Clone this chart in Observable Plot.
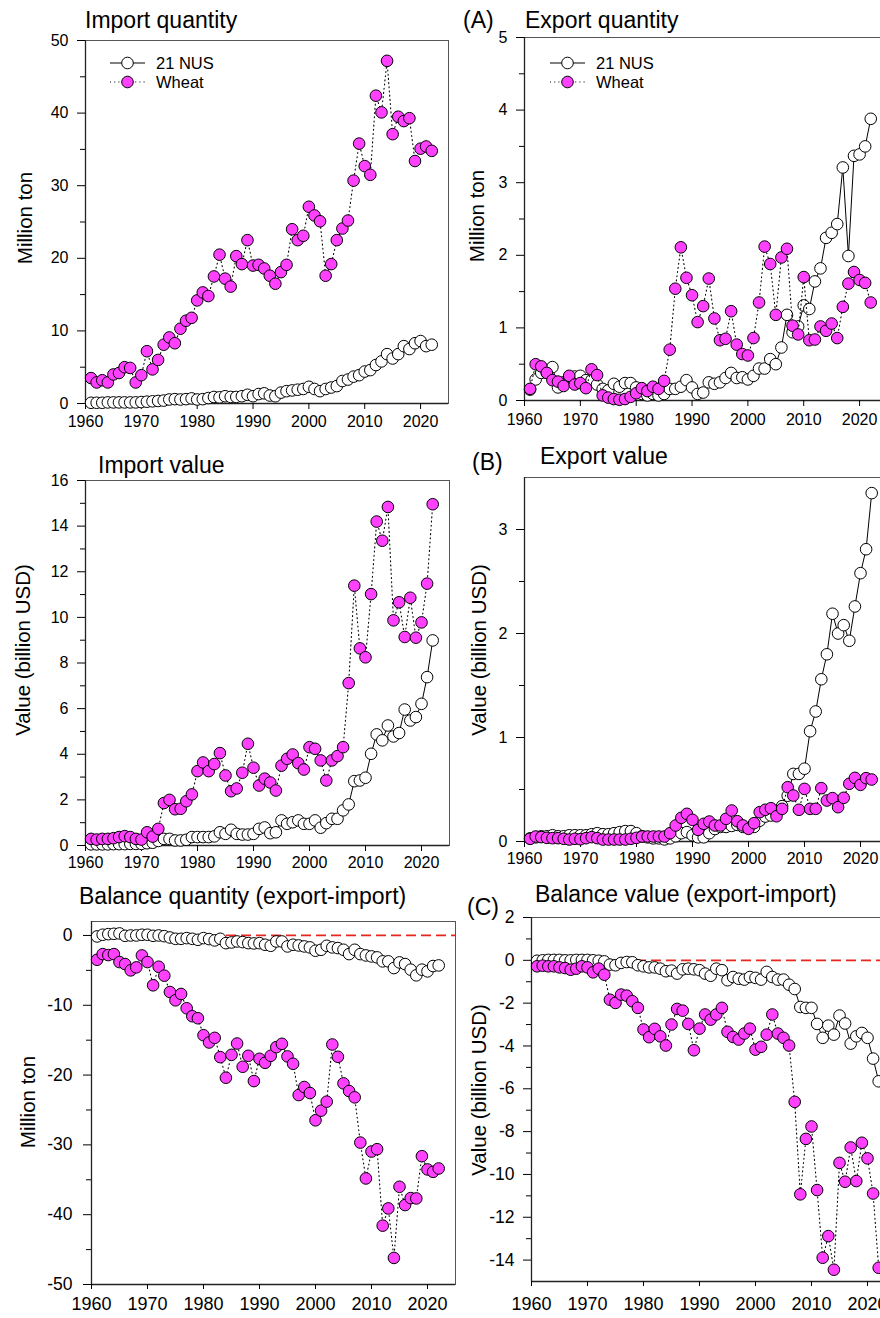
<!DOCTYPE html>
<html>
<head>
<meta charset="utf-8">
<script src="https://cdn.jsdelivr.net/npm/d3@7"></script>
<script src="https://cdn.jsdelivr.net/npm/@observablehq/plot@0.6"></script>
<style>
html, body { margin: 0; padding: 0; background: #fff; }
#page { position: relative; width: 880px; height: 1318px; overflow: hidden; background: #fff; }
</style>
</head>
<body>
<div id="page"></div>
<script>
const FONT = "'Liberation Sans', Arial, Helvetica, sans-serif";
const years = d3.range(1961, 2023);
const xTickYears = [1960, 1970, 1980, 1990, 2000, 2010, 2020];
const seriesNames = ["21 NUS", "Wheat"];

// Import quantity (million ton)
const impQtyNUS = [0.1,0.1,0.1,0.15,0.15,0.15,0.15,0.15,0.15,0.2, 0.25,0.3,0.35,0.4,0.55,0.6,0.55,0.6,0.7,0.55, 0.6,0.75,0.9,0.85,1.0,0.9,0.9,1.0,1.2,1.0, 1.3,1.4,1.1,1.0,1.5,1.7,1.8,1.9,2.0,2.3, 2.0,1.7,2.0,2.2,2.4,3.1,3.3,3.7,3.9,4.4, 4.6,5.3,5.8,6.8,6.2,6.8,7.9,7.5,8.3,8.6, 7.9,8.1];
const impQtyWheat = [3.5,2.9,3.2,2.9,4.0,4.2,5.0,4.9,2.9,3.9, 7.2,4.7,6.0,8.1,9.1,8.3,10.3,11.4,11.8,14.2, 15.3,14.8,17.5,20.5,17.2,16.1,20.3,19.2,22.5,19.0, 19.1,18.6,17.6,16.5,18.1,19.1,24.0,22.5,23.1,27.1, 25.9,25.1,17.6,19.2,22.5,24.1,25.2,30.7,35.8,32.7, 31.5,42.4,40.1,47.2,37.1,39.5,38.9,39.3,33.4,35.1, 35.4,34.8];

// Export quantity (million ton)
const expQtyNUS = [0.15,0.29,0.38,0.38,0.46,0.18,0.25,0.32,0.33,0.34, 0.28,0.28,0.22,0.16,0.14,0.23,0.19,0.24,0.24,0.18, 0.09,0.07,0.09,0.07,0.09,0.16,0.16,0.19,0.28,0.18, 0.09,0.11,0.25,0.23,0.25,0.31,0.38,0.31,0.32,0.29, 0.34,0.44,0.44,0.57,0.5,0.73,1.18,0.94,1.02,1.31, 1.26,1.64,1.82,2.24,2.31,2.43,3.21,1.99,3.37,3.39, 3.5,3.88];
const expQtyWheat = [0.16,0.5,0.47,0.38,0.28,0.26,0.2,0.34,0.22,0.24, 0.17,0.43,0.35,0.07,0.04,0.02,0.01,0.02,0.05,0.1, 0.17,0.13,0.19,0.16,0.27,0.7,1.54,2.11,1.69,1.45, 1.08,1.3,1.68,1.13,0.83,0.85,1.23,0.77,0.64,0.62, 0.86,1.35,2.12,1.88,1.18,1.97,2.09,1.03,0.91,1.7, 0.83,0.84,1.02,0.96,1.06,0.86,1.29,1.61,1.77,1.66, 1.62,1.35];

// Import value (billion USD)
const impValNUS = [0.05,0.05,0.05,0.05,0.06,0.06,0.06,0.07,0.07,0.07, 0.1,0.12,0.2,0.29,0.29,0.22,0.22,0.25,0.37,0.37, 0.37,0.37,0.4,0.58,0.51,0.69,0.51,0.48,0.48,0.51, 0.73,0.79,0.54,0.58,1.1,0.95,1.02,1.1,0.95,0.95, 1.1,0.78,0.98,1.17,1.17,1.54,1.8,2.82,2.85,2.97, 4.02,4.87,4.61,5.26,4.78,4.93,5.96,5.48,5.63,6.21, 7.38,8.99];
const impValWheat = [0.29,0.26,0.29,0.29,0.32,0.37,0.41,0.37,0.29,0.26, 0.58,0.39,0.73,1.86,2.0,1.59,1.61,1.94,2.24,3.26, 3.64,3.26,3.57,4.05,3.07,2.38,2.5,3.19,4.46,3.41, 2.63,2.93,2.76,2.41,3.5,3.8,3.99,3.61,3.33,4.31, 4.24,3.73,2.85,3.73,3.92,4.31,7.12,11.39,8.64,8.25, 11.02,14.2,13.36,14.84,9.87,10.66,9.14,10.86,9.11,9.78, 11.48,14.96];

// Export value (billion USD)
const expValNUS = [0.03,0.04,0.05,0.05,0.06,0.05,0.05,0.06,0.06,0.06, 0.06,0.07,0.08,0.07,0.07,0.08,0.09,0.1,0.1,0.08, 0.05,0.04,0.03,0.03,0.02,0.03,0.05,0.08,0.09,0.06, 0.04,0.04,0.08,0.12,0.14,0.14,0.15,0.16,0.14,0.13, 0.14,0.2,0.24,0.25,0.28,0.34,0.44,0.65,0.65,0.7, 1.06,1.25,1.56,1.8,2.19,2.0,2.08,1.93,2.26,2.58, 2.81,3.35];
const expValWheat = [0.026,0.048,0.042,0.035,0.032,0.032,0.026,0.019,0.026,0.022, 0.032,0.042,0.032,0.019,0.019,0.019,0.019,0.019,0.026,0.035, 0.048,0.048,0.048,0.048,0.048,0.08,0.154,0.228,0.266,0.208, 0.112,0.17,0.192,0.154,0.154,0.218,0.298,0.195,0.154,0.122, 0.176,0.282,0.305,0.32,0.243,0.314,0.522,0.442,0.305,0.506, 0.314,0.314,0.513,0.394,0.417,0.33,0.42,0.555,0.612,0.545, 0.609,0.596];

// Balance quantity (million ton)
const balQtyNUS = [-0.14,0.1,0.19,0.24,0.29,-0.05,0.0,0.0,0.1,0.1, -0.05,0.0,-0.1,-0.29,-0.48,-0.48,-0.38,-0.48,-0.62,-0.38, -0.52,-0.71,-0.48,-1.1,-1.0,-0.86,-0.95,-1.1,-1.14,-1.1, -1.33,-1.48,-0.86,-0.86,-1.57,-1.33,-1.43,-1.57,-1.71,-2.19, -2.05,-1.48,-1.71,-1.81,-2.05,-2.67,-2.05,-2.67,-2.86,-3.0, -3.14,-3.71,-3.71,-4.67,-3.86,-4.1,-4.9,-5.71,-4.9,-5.14, -4.38,-4.29];
const balQtyWheat = [-3.48,-2.67,-2.81,-2.67,-3.81,-4.1,-5.0,-4.57,-2.86,-3.81, -7.14,-4.48,-5.76,-8.1,-9.29,-8.38,-10.43,-11.57,-11.86,-14.29, -15.33,-14.67,-17.43,-20.38,-17.1,-15.48,-18.81,-17.24,-20.86,-17.67, -18.24,-17.24,-16.0,-15.52,-17.33,-18.38,-22.86,-21.71,-22.57,-26.48, -25.1,-23.81,-15.62,-17.38,-21.19,-22.29,-23.19,-29.67,-34.81,-30.95, -30.62,-41.57,-39.1,-46.19,-36.0,-38.62,-37.62,-37.67,-31.62,-33.52, -33.86,-33.38];

// Balance value (billion USD)
const balValNUS = [-0.02,0.0,0.02,0.02,0.02,0.0,0.0,0.02,0.02,0.02, 0.0,-0.02,-0.05,-0.2,-0.23,-0.12,-0.08,-0.09,-0.23,-0.28, -0.33,-0.33,-0.39,-0.51,-0.48,-0.62,-0.42,-0.39,-0.42,-0.46, -0.62,-0.72,-0.39,-0.46,-0.93,-0.78,-0.86,-0.9,-0.78,-0.82, -0.9,-0.54,-0.78,-0.9,-0.9,-1.14,-1.34,-2.18,-2.22,-2.22, -2.97,-3.62,-3.05,-3.47,-2.58,-2.95,-3.89,-3.55,-3.39,-3.62, -4.59,-5.65];
const balValWheat = [-0.28,-0.25,-0.28,-0.28,-0.33,-0.36,-0.44,-0.39,-0.28,-0.33, -0.56,-0.39,-0.67,-1.84,-1.99,-1.6,-1.65,-1.91,-2.22,-3.23, -3.59,-3.2,-3.55,-3.98,-3.0,-2.27,-2.35,-2.97,-4.2,-3.19, -2.53,-2.77,-2.53,-2.22,-3.34,-3.58,-3.7,-3.42,-3.19,-4.17, -4.04,-3.47,-2.53,-3.42,-3.62,-3.98,-6.61,-10.93,-8.34,-7.76, -10.73,-13.89,-12.88,-14.45,-9.46,-10.34,-8.74,-10.31,-8.52,-9.25, -10.89,-14.36];

// Y tick values
const ticksImpQty = [0,10,20,30,40,50], minorImpQty = [5,15,25,35,45];
const ticksExpQty = [0,1,2,3,4,5], minorExpQty = [0.5,1.5,2.5,3.5,4.5];
const ticksImpVal = [0,2,4,6,8,10,12,14,16], minorImpVal = [1,3,5,7,9,11,13,15];
const ticksExpVal = [0,1,2,3], minorExpVal = [0.5,1.5,2.5];
const ticksBalQty = [0,-10,-20,-30,-40,-50], minorBalQty = [-5,-15,-25,-35,-45];
const ticksBalVal = [2,0,-2,-4,-6,-8,-10,-12,-14], minorBalVal = [1,-1,-3,-5,-7,-9,-11,-13];

const MAGENTA = "#ff40ff";
const DOTS = "1,3.2";
const page = document.getElementById("page");

function panel(o) {
  const mL = 70, mR = 12, mT = 12, mB = 45;
  const rowsN = years.map((year, i) => ({year, v: o.nus[i], s: seriesNames[0]}));
  const rowsW = years.map((year, i) => ({year, v: o.wheat[i], s: seriesNames[1]}));
  const marks = [Plot.frame({stroke: "#555", strokeWidth: 1})];
  if (o.zero) marks.push(Plot.ruleY([0], {stroke: "#e8251f", strokeWidth: 1.7, strokeDasharray: "10,5"}));
  marks.push(
    Plot.ruleX([1960], {stroke: "#222", strokeWidth: 1.3}),
    Plot.ruleY([o.yDomain[0]], {stroke: "#222", strokeWidth: 1.3}),
    Plot.axisX({ticks: xTickYears, tickSize: o.xTick, tickPadding: o.xPad, fontSize: o.xFont, tickFormat: d => String(d), label: null}),
    Plot.axisY({ticks: o.major, tickSize: 8, tickPadding: o.yPad, fontSize: o.yFont, tickFormat: d => String(d), label: null}),
    Plot.axisY({ticks: o.minor, tickSize: 5, tickFormat: () => "", label: null}),
    Plot.line(rowsN, {x: "year", y: "v", stroke: "#000", strokeWidth: 1}),
    Plot.dot(rowsN, {x: "year", y: "v", r: 5.8, fill: "#fff", stroke: "#000", strokeWidth: 1}),
    Plot.line(rowsW, {x: "year", y: "v", stroke: "#000", strokeWidth: 1.1, strokeDasharray: DOTS}),
    Plot.dot(rowsW, {x: "year", y: "v", r: 5.8, fill: MAGENTA, stroke: "#000", strokeWidth: 1})
  );
  const svg = Plot.plot({
    width: mL + o.fw + mR, height: mT + o.fh + mB,
    marginLeft: mL, marginRight: mR, marginTop: mT, marginBottom: mB,
    x: {domain: [1960, 2025]}, y: {domain: o.yDomain},
    style: {background: "transparent", overflow: "visible", maxWidth: "none", fontFamily: FONT, color: "#000"},
    marks
  });
  svg.style.position = "absolute";
  svg.style.left = (o.fx - mL) + "px";
  svg.style.top = (o.fy - mT) + "px";
  page.appendChild(svg);
}

panel({fx: 85, fy: 40, fw: 363, fh: 363, yDomain: [0, 50], major: ticksImpQty, minor: minorImpQty, nus: impQtyNUS, wheat: impQtyWheat, xFont: 16, xTick: 6, xPad: 6, yFont: 16, yPad: 9});
panel({fx: 524, fy: 37, fw: 363, fh: 363, yDomain: [0, 5], major: ticksExpQty, minor: minorExpQty, nus: expQtyNUS, wheat: expQtyWheat, xFont: 16, xTick: 6, xPad: 7, yFont: 16, yPad: 9});
panel({fx: 85, fy: 480, fw: 364, fh: 365, yDomain: [0, 16], major: ticksImpVal, minor: minorImpVal, nus: impValNUS, wheat: impValWheat, xFont: 16, xTick: 6, xPad: 5, yFont: 16, yPad: 9});
panel({fx: 524, fy: 477, fw: 364, fh: 364, yDomain: [0, 3.5], major: ticksExpVal, minor: minorExpVal, nus: expValNUS, wheat: expValWheat, xFont: 16, xTick: 6, xPad: 5, yFont: 16, yPad: 9});
panel({fx: 91, fy: 921, fw: 364, fh: 363, yDomain: [-50, 2], major: ticksBalQty, minor: minorBalQty, nus: balQtyNUS, wheat: balQtyWheat, zero: true, xFont: 18, xTick: 5, xPad: 8, yFont: 17.5, yPad: 11});
panel({fx: 531, fy: 917, fw: 364, fh: 364, yDomain: [-15, 2], major: ticksBalVal, minor: minorBalVal, nus: balValNUS, wheat: balValWheat, zero: true, xFont: 18, xTick: 5, xPad: 11, yFont: 17.5, yPad: 9});

// Overlay: titles, panel letters, axis labels, legends
const ov = d3.select(page).append("svg")
  .attr("width", 880).attr("height", 1318)
  .style("position", "absolute").style("left", "0px").style("top", "0px")
  .style("font-family", FONT).style("pointer-events", "none");

const titles = [
  {t: "Import quantity", x: 85, y: 28},
  {t: "(A)", x: 463, y: 28},
  {t: "Export quantity", x: 525, y: 28},
  {t: "Import value", x: 98, y: 473},
  {t: "(B)", x: 472, y: 470},
  {t: "Export value", x: 540, y: 464},
  {t: "Balance quantity (export-import)", x: 79, y: 904},
  {t: "(C)", x: 467, y: 915},
  {t: "Balance value (export-import)", x: 535, y: 902}
];
ov.selectAll("text.title").data(titles).join("text").attr("class", "title")
  .attr("x", d => d.x).attr("y", d => d.y).attr("font-size", 23).attr("fill", "#000").text(d => d.t);

const ylabels = [
  {t: "Million ton", x: 32, y: 218},
  {t: "Million ton", x: 484, y: 216},
  {t: "Value (billion USD)", x: 30, y: 650},
  {t: "Value (billion USD)", x: 486, y: 650},
  {t: "Million ton", x: 35, y: 1102},
  {t: "Value (billion USD)", x: 486, y: 1090}
];
ov.selectAll("text.ylab").data(ylabels).join("text").attr("class", "ylab")
  .attr("transform", d => `translate(${d.x},${d.y}) rotate(-90)`)
  .attr("text-anchor", "middle").attr("font-size", 20.5).attr("fill", "#000").text(d => d.t);

// Legends
[110, 550].forEach(x0 => {
  const g = ov.append("g");
  g.append("line").attr("x1", x0).attr("x2", x0 + 35).attr("y1", 63).attr("y2", 63).attr("stroke", "#000").attr("stroke-width", 1);
  g.append("circle").attr("cx", x0 + 17.5).attr("cy", 63).attr("r", 5.8).attr("fill", "#fff").attr("stroke", "#000");
  g.append("text").attr("x", x0 + 46).attr("y", 69).attr("font-size", 16.5).text(seriesNames[0]);
  g.append("line").attr("x1", x0).attr("x2", x0 + 35).attr("y1", 82).attr("y2", 82).attr("stroke", "#000").attr("stroke-width", 1.1).attr("stroke-dasharray", DOTS);
  g.append("circle").attr("cx", x0 + 17.5).attr("cy", 82).attr("r", 5.8).attr("fill", MAGENTA).attr("stroke", "#000");
  g.append("text").attr("x", x0 + 46).attr("y", 88).attr("font-size", 16.5).text(seriesNames[1]);
});
</script>
</body>
</html>
